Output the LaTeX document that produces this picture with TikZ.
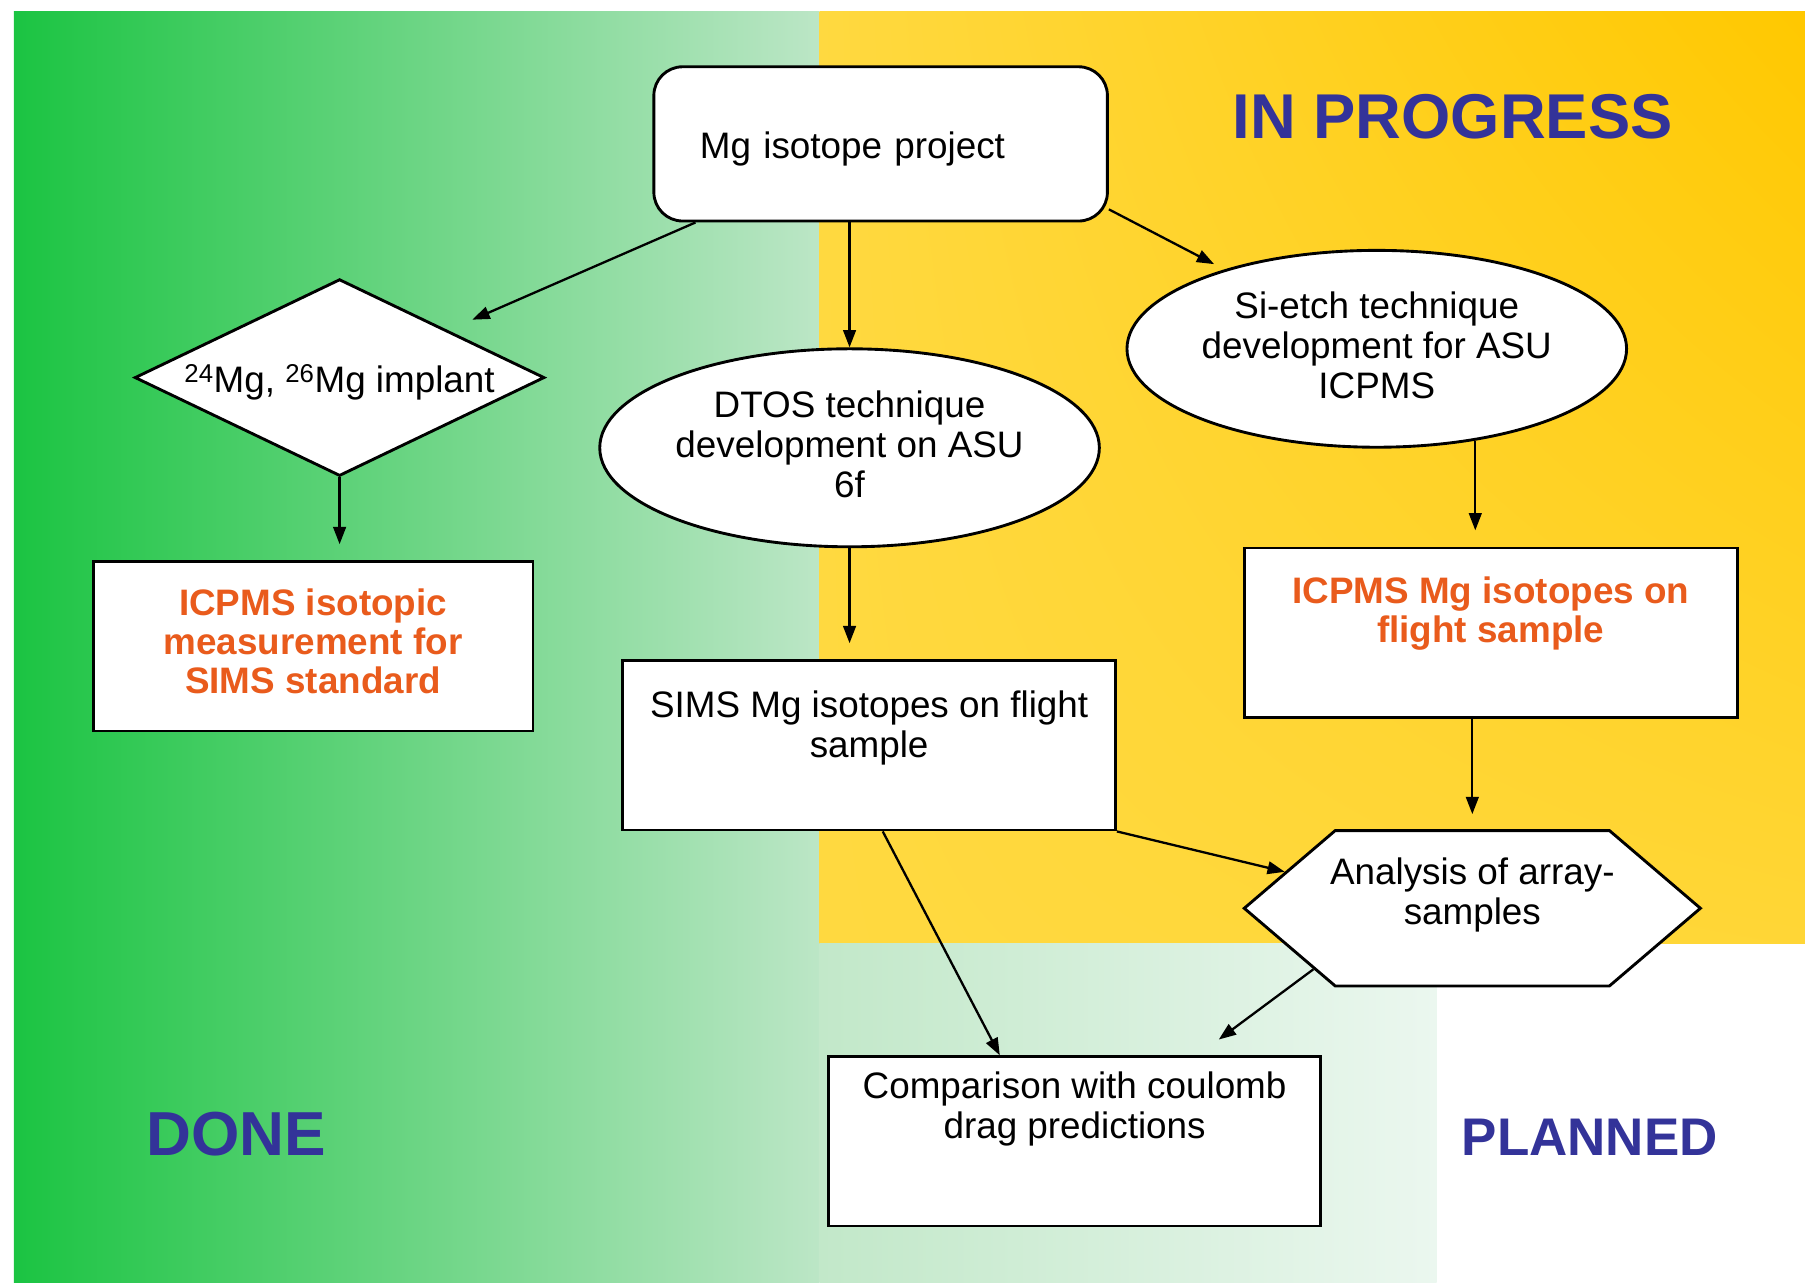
\documentclass[tikz,border=0pt]{standalone}
\usepackage{fontspec}
\setmainfont{Liberation Sans}
\usepackage{xcolor}
\usetikzlibrary{arrows.meta,shapes.geometric,shapes.symbols,shadings}

\definecolor{donegreen}{HTML}{1BC442}
\definecolor{donepale}{HTML}{BCE6C6}
\definecolor{mintleft}{HTML}{C2E8C9}
\definecolor{mintright}{HTML}{EBF7EF}
\definecolor{progyellow}{HTML}{FFD940}
\definecolor{progdeep}{HTML}{FFC800}
\definecolor{tagblue}{HTML}{333399}
\definecolor{icporange}{HTML}{E95B1C}

\begin{document}
\begin{tikzpicture}[x=1pt,y=-1pt,
 box/.style={draw,line width=2.5pt,fill=white,inner sep=0pt,font=\fontsize{32}{35}\selectfont,align=center},
 hot/.style={font=\fontsize{32}{34}\selectfont\bfseries,text=icporange},
 tag/.style={text=tagblue},
 arr/.style={-{Triangle[length=15pt,width=11pt]},line width=2pt}]
\useasboundingbox (0,0) rectangle (1568,1114);
\shade[left color=donegreen,right color=donepale] (12,10) rectangle (712,1114);
\shade[upper left=progyellow,upper right=progdeep,lower left=progyellow,lower right=progyellow!85!progdeep] (712,10) rectangle (1568,820);
\shade[left color=mintleft,right color=mintright] (712,820) rectangle (1248,1114);

\node[tag,font=\fontsize{55}{60}\selectfont\bfseries] (inprog) at (1262,101) {IN PROGRESS};
\node[tag,font=\fontsize{54}{60}\selectfont\bfseries] (done) at (205,985) {DONE};
\node[tag,font=\fontsize{46}{50}\selectfont\bfseries] (planned) at (1381,988) {PLANNED};

\node[box,rounded corners=25pt,minimum width=394pt,minimum height=134pt,text width=314pt,inner xsep=40pt,align=left,text height=26pt,text depth=0pt] (proj) at (765,125) {Mg isotope project};
\node[box,diamond,aspect=2.08,minimum width=356pt,minimum height=171pt,text height=28pt,text depth=2pt] (imp) at (295,328) {\textsuperscript{24}Mg, \textsuperscript{26}Mg implant};
\node[box,hot,minimum width=382pt,minimum height=147pt,text height=92pt,text depth=10pt] (iso) at (272,561.5) {ICPMS isotopic\\measurement for\\SIMS standard};
\node[box,ellipse,minimum width=434pt,minimum height=172pt,text height=94pt,text depth=7pt] (dtos) at (738,389) {DTOS technique\\development on ASU\\6f};
\node[box,ellipse,minimum width=434pt,minimum height=171pt,text height=94pt,text depth=7pt] (siet) at (1196,303) {Si-etch technique\\development for ASU\\ICPMS};
\node[box,minimum width=428pt,text height=59pt,text depth=38pt,inner ysep=25pt] (sims) at (755,647.5) {SIMS Mg isotopes on flight\\sample};
\node[box,hot,minimum width=428pt,text height=58pt,text depth=41pt,inner ysep=24pt] (icp) at (1295,549.5) {ICPMS Mg isotopes on\\flight sample};
\node[box,signal,signal to=west and east,signal pointer angle=81,minimum width=390pt,minimum height=135pt,inner xsep=-4.5pt,text height=59pt,text depth=31pt] (ana) at (1279,789) {Analysis of array-\\samples};
\node[box,minimum width=427pt,text height=59pt,text depth=64pt,inner ysep=12pt] (comp) at (933.5,991.5) {Comparison with coulomb\\drag predictions};

\draw[arr,shorten >=23pt] (proj.203) -- (imp);
\draw[arr] (proj.south -| dtos.north) -- (dtos.north);
\draw[arr,shorten >=10pt] (proj.-16) -- (siet);
\draw[arr,shorten >=14pt] (imp.south) -- (imp.south |- iso.north);
\draw[arr,shorten >=14pt] (dtos.south) -- (dtos.south |- sims.north);
\draw[arr,shorten >=14pt] (siet.-43) -- (siet.-43 |- icp.north);
\draw[arr,shorten >=13pt] (ana.north |- icp.south) -- (ana.north);
\draw[arr] (sims.south east) -- (ana.169);
\draw[arr] (sims.-81.5) -- (comp.131);
\draw[arr,shorten >=23pt] (ana.201) -- (comp.35);
\end{tikzpicture}
\end{document}
